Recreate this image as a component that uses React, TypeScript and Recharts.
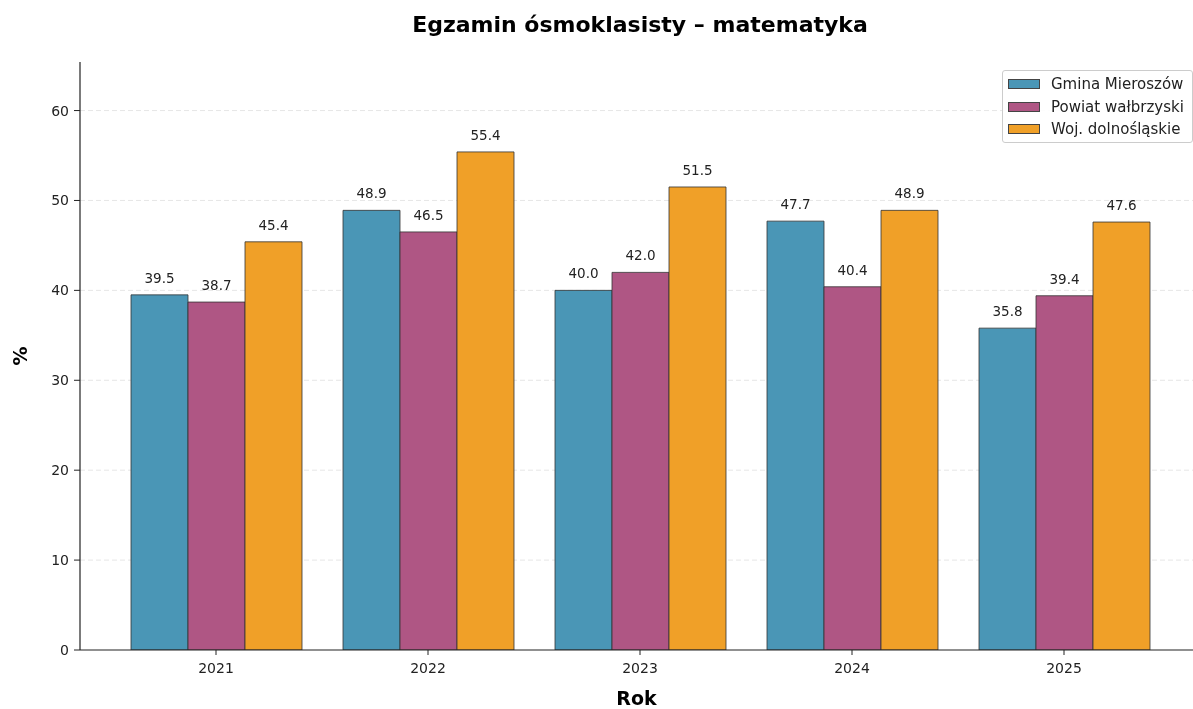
import React from 'react';
import { BarChart, Bar, XAxis, YAxis, CartesianGrid, LabelList } from 'recharts';

const years = ['2021', '2022', '2023', '2024', '2025'];
const gmina = [39.5, 48.9, 40.0, 47.7, 35.8];
const powiat = [38.7, 46.5, 42.0, 40.4, 39.4];
const woj = [45.4, 55.4, 51.5, 48.9, 47.6];
const seriesNames = ['Gmina Mieroszów', 'Powiat wałbrzyski', 'Woj. dolnośląskie'];
const yTicks = [0, 10, 20, 30, 40, 50, 60];
const gridValues = [10, 20, 30, 40, 50, 60];

const data = years.map((y, i) => ({ year: y, g: gmina[i], p: powiat[i], w: woj[i] }));

const FONT = '"DejaVu Sans", sans-serif';
const colors = ['#4A96B6', '#AF5684', '#F0A028'];

const LegendBox = () => (
  <div
    style={{
      position: 'absolute',
      left: 1002,
      top: 70,
      width: 191,
      height: 73,
      border: '1px solid #ccc',
      borderRadius: 3,
      background: 'rgba(255,255,255,0.9)',
      fontFamily: FONT,
      fontSize: 15,
      color: '#222',
      boxSizing: 'border-box',
      padding: '2px 0 0 5px',
    }}
  >
    {seriesNames.map((n, i) => (
      <div key={n} style={{ display: 'flex', alignItems: 'center', height: 22.5 }}>
        <span
          style={{
            display: 'inline-block',
            width: 32,
            height: 10,
            background: colors[i],
            border: '1px solid #444',
            marginRight: 11,
            boxSizing: 'border-box',
          }}
        />
        <span style={{ whiteSpace: 'nowrap' }}>{n}</span>
      </div>
    ))}
  </div>
);

export default function App() {
  return (
    <div style={{ position: 'fixed', left: 0, top: 0, width: 1193, height: 709, background: '#fff' }}>
      <div
        style={{
          position: 'absolute',
          top: 12,
          left: 0,
          width: 1280,
          textAlign: 'center',
          fontFamily: FONT,
          fontWeight: 'bold',
          fontSize: 22,
          color: '#000',
        }}
      >
        Egzamin ósmoklasisty – matematyka
      </div>
      <BarChart
        width={1193}
        height={709}
        data={data}
        margin={{ top: 62, right: 0, bottom: 29, left: 0 }}
        barCategoryGap={21}
        barGap={0}
        style={{ fontFamily: FONT }}
      >
        <CartesianGrid vertical={false} horizontalValues={gridValues} stroke="#e6e6e6" strokeDasharray="5 3" />
        <XAxis
          dataKey="year"
          height={30}
          padding={{ left: 30, right: 23 }}
          tick={{ fill: '#222', fontSize: 14 }}
          tickLine={{ stroke: '#222' }}
          tickSize={5}
          tickMargin={8}
          axisLine={{ stroke: '#222', strokeWidth: 1.2 }}
          label={{ value: 'Rok', position: 'insideBottom', offset: -25, style: { fontWeight: 'bold', fontSize: 19, fill: '#000' } }}
        />
        <YAxis
          domain={[0, 65.4]}
          ticks={yTicks}
          allowDataOverflow
          width={80}
          tick={{ fill: '#222', fontSize: 14 }}
          tickLine={{ stroke: '#222' }}
          tickSize={6}
          tickMargin={5}
          axisLine={{ stroke: '#222', strokeWidth: 1.2 }}
          label={{ value: '%', angle: -90, position: 'insideLeft', offset: 20, style: { fontWeight: 'bold', fontSize: 19, fill: '#000', textAnchor: 'middle' } }}
        />
        {(['g', 'p', 'w'] as const).map((k, i) => (
          <Bar
            key={k}
            dataKey={k}
            name={seriesNames[i]}
            fill={colors[i]}
            stroke="#333"
            strokeWidth={0.8}
            isAnimationActive={false}
          >
            <LabelList
              dataKey={k}
              position="top"
              offset={12}
              formatter={(v: number) => v.toFixed(1)}
              style={{ fill: '#222', fontSize: 13.5, fontFamily: FONT }}
            />
          </Bar>
        ))}
      </BarChart>
      <LegendBox />
    </div>
  );
}
